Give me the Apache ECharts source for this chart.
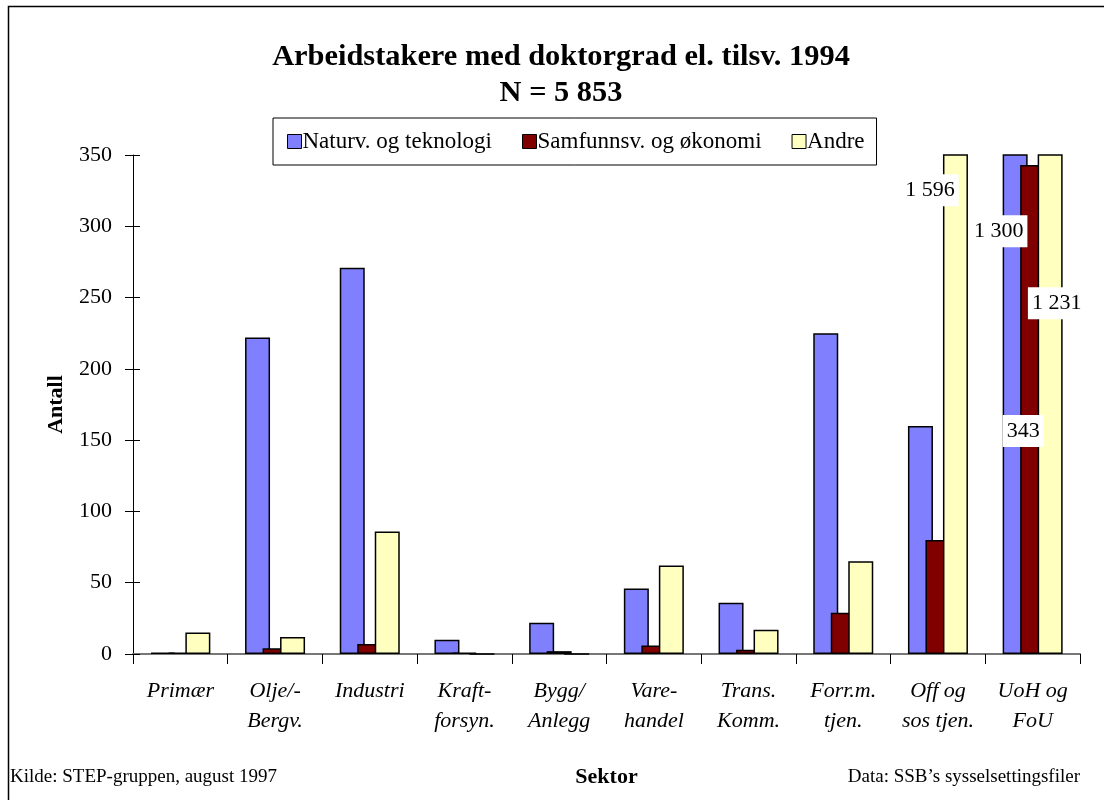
<!DOCTYPE html>
<html>
<head>
<meta charset="utf-8">
<script src="https://cdn.jsdelivr.net/npm/echarts@6/dist/echarts.min.js"></script>
<style>
  html, body { margin: 0; padding: 0; background: #fff; }
  #chart { width: 1104px; height: 800px; }
</style>
</head>
<body>
<div id="chart"></div>
<script>
// sektorer (x-aksen)
var sectors = ['Primær', 'Olje/-\nBergv.', 'Industri', 'Kraft-\nforsyn.', 'Bygg/\nAnlegg',
  'Vare-\nhandel', 'Trans.\nKomm.', 'Forr.m.\ntjen.', 'Off og\nsos tjen.', 'UoH og\nFoU'];

// antall per fagområde
var naturv = [1, 222, 271, 10, 22, 46, 36, 225, 160, 1300];
var samfunn = [1, 4, 7, 1, 2, 6, 3, 29, 80, 343];
var andre = [15, 12, 86, 0, 0, 62, 17, 65, 1596, 1231];

var yTicks = [0, 50, 100, 150, 200, 250, 300, 350];

// hvor verdietikettene står (relativt til søylen), bare for de store søylene
var naturvLabels = {9: [-4, 77]};
var samfunnLabels = {9: [3, 266]};
var andreLabels = {8: [-13, 36], 9: [19, 149]};

var serif = 'Liberation Serif, Times New Roman, serif';

function fmt(v) {
  return String(v).replace(/\B(?=(\d{3})+(?!\d))/g, ' ');
}

function withLabels(values, spots) {
  return values.map(function (v, i) {
    if (!spots[i]) return v;
    return {
      value: v,
      label: {
        show: true,
        position: spots[i],
        align: 'center',
        verticalAlign: 'middle',
        formatter: function (p) { return fmt(p.value); },
        fontFamily: serif,
        fontSize: 22,
        color: '#000',
        backgroundColor: '#fff',
        padding: [6, 4, 4, 4]
      }
    };
  });
}

function barSeries(name, color, values, spots) {
  return {
    name: name,
    type: 'bar',
    barWidth: 25,
    barGap: '-30%',
    clip: true,
    itemStyle: {color: color, borderColor: '#000', borderWidth: 1.5},
    emphasis: {disabled: true},
    data: withLabels(values, spots)
  };
}

var chart = echarts.init(document.getElementById('chart'));
chart.setOption({
  animation: false,
  backgroundColor: '#fff',
  textStyle: {fontFamily: serif},
  title: [
    {
      text: 'Arbeidstakere med doktorgrad el. tilsv. 1994\nN = 5 853',
      left: 556,
      top: 34,
      textAlign: 'center',
      textStyle: {fontFamily: serif, fontSize: 30.4, fontWeight: 'bold', color: '#000', lineHeight: 36}
    },
    {
      text: 'Kilde: STEP-gruppen, august 1997',
      left: 10, top: 768,
      padding: 0,
      textStyle: {fontFamily: serif, fontSize: 19, fontWeight: 'normal', color: '#000'}
    },
    {
      text: 'Data: SSB\u2019s sysselsettingsfiler',
      right: 24, top: 768,
      padding: 0,
      textStyle: {fontFamily: serif, fontSize: 19, fontWeight: 'normal', color: '#000'}
    }
  ],
  legend: {
    left: 273,
    top: 118,
    padding: [12, 12, 12, 14],
    itemGap: 30,
    itemWidth: 14,
    itemHeight: 14,
    borderColor: '#000',
    borderWidth: 1,
    icon: 'rect',
    itemStyle: {borderColor: '#000', borderWidth: 1},
    textStyle: {fontFamily: serif, fontSize: 23, color: '#000', padding: [0, 0, 0, -4]},
    data: ['Naturv. og teknologi', 'Samfunnsv. og økonomi', 'Andre']
  },
  grid: {left: 133, right: 24, top: 155, bottom: 146, containLabel: false},
  xAxis: {
    type: 'category',
    data: sectors,
    name: 'Sektor',
    nameLocation: 'middle',
    nameGap: 112,
    nameTextStyle: {fontFamily: serif, fontSize: 22, fontWeight: 'bold', color: '#000'},
    axisLine: {lineStyle: {color: '#777', width: 2}},
    axisTick: {show: true, length: 10, lineStyle: {color: '#000', width: 1}},
    axisLabel: {
      interval: 0,
      margin: 22,
      fontFamily: serif,
      fontSize: 22,
      fontStyle: 'italic',
      lineHeight: 30,
      color: '#000'
    }
  },
  yAxis: [
    {
      type: 'value',
      gridIndex: 0,
      position: 'left',
      min: yTicks[0],
      max: yTicks[yTicks.length - 1],
      interval: 50,
      name: 'Antall',
      nameLocation: 'middle',
      nameGap: 66,
      nameRotate: 90,
      nameTextStyle: {fontFamily: serif, fontSize: 22, fontWeight: 'bold', color: '#000'},
      axisLine: {show: true, lineStyle: {color: '#000', width: 1}},
      axisTick: {show: true, length: 8, lineStyle: {color: '#000'}},
      axisLabel: {margin: 21, fontFamily: serif, fontSize: 22, color: '#000'},
      splitLine: {show: false}
    },
    {
      // bare for tikkene på innsiden av aksen
      type: 'value',
      gridIndex: 0,
      position: 'left',
      offset: -7,
      min: yTicks[0],
      max: yTicks[yTicks.length - 1],
      interval: 50,
      axisLine: {show: false},
      axisTick: {show: true, length: 7, lineStyle: {color: '#000'}},
      axisLabel: {show: false},
      splitLine: {show: false}
    }
  ],
  graphic: [
    {
      type: 'rect',
      silent: true,
      shape: {x: 8.5, y: 6.5, width: 1200, height: 900},
      style: {fill: 'none', stroke: '#000', lineWidth: 1.5}
    }
  ],
  series: [
    barSeries('Naturv. og teknologi', '#8080ff', naturv, naturvLabels),
    barSeries('Samfunnsv. og økonomi', '#800000', samfunn, samfunnLabels),
    barSeries('Andre', '#ffffc0', andre, andreLabels),
    // tom serie så den andre y-aksen blir tegnet
    {type: 'line', yAxisIndex: 1, data: [], silent: true}
  ]
});
</script>
</body>
</html>
